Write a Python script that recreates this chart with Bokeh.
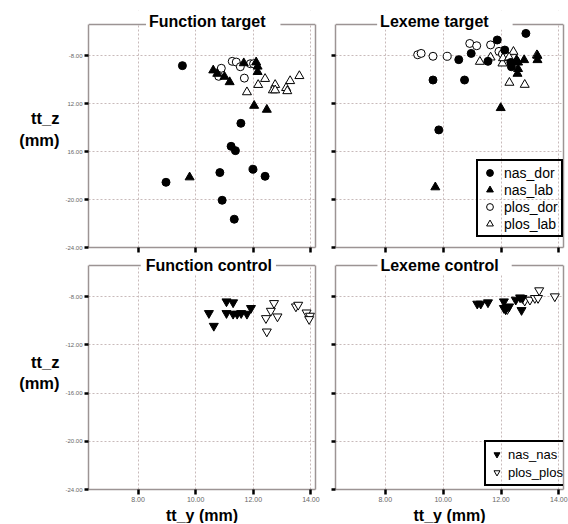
from bokeh.plotting import figure
from bokeh.layouts import column, row
from bokeh.models import (Range1d, FixedTicker, Label, Legend, LegendItem, LinearAxis,
                          ColumnDataSource, Span, BoxAnnotation, Title)
from bokeh.embed import file_html
from bokeh.resources import INLINE

# ---------------- data ----------------
panel_titles = ["Function target", "Lexeme target", "Function control", "Lexeme control"]
x_ticks = [8, 10, 12, 14]
x_tick_labels = ["8.00", "10.00", "12.00", "14.00"]
y_ticks = [-24, -20, -16, -12, -8]
y_tick_labels_top = ["-24.00", "-20.00", "16.00", "12.00", "-8.00"]
y_tick_labels_bottom = ["-24.00", "-20.00", "-16.00", "-12.00", "-8.00"]

# Function target
ft_nas_dor_y = [9.54, 11.57, 11.23, 11.38, 8.97, 10.84, 11.99, 12.41, 10.92, 11.34]
ft_nas_dor_z = [-8.83, -13.64, -15.56, -15.92, -18.56, -17.75, -17.47, -18.06, -20.06, -21.64]
ft_nas_lab_y = [10.61, 10.75, 11.0, 11.18, 11.67, 12.1, 12.15, 12.15, 12.03, 12.47, 9.79]
ft_nas_lab_z = [-9.22, -9.5, -9.75, -10.2, -8.62, -8.55, -8.9, -9.35, -12.17, -12.5, -18.14]
ft_plos_dor_y = [10.89, 10.8, 11.27, 11.41, 11.55, 11.69, 11.9, 12.01]
ft_plos_dor_z = [-9.05, -9.72, -8.47, -8.53, -8.92, -9.87, -8.67, -8.67]
ft_plos_lab_y = [11.78, 12.17, 12.41, 12.76, 12.68, 12.76, 13.14, 13.18, 13.28, 13.6]
ft_plos_lab_z = [-11.04, -10.43, -9.93, -10.43, -10.88, -10.88, -10.69, -10.95, -10.11, -9.69]

# Lexeme target
lt_nas_dor_y = [9.65, 10.74, 10.54, 10.97, 11.55, 11.87, 12.13, 12.36, 12.34, 12.86, 9.85]
lt_nas_dor_z = [-10.03, -10.03, -8.33, -7.81, -8.47, -6.69, -7.53, -8.92, -8.56, -6.14, -14.19]
lt_nas_lab_y = [12.54, 12.59, 12.8, 12.59, 12.57, 13.26, 13.26, 11.99, 9.73]
lt_nas_lab_z = [-8.36, -8.56, -8.36, -9.1, -9.5, -8.0, -8.36, -12.36, -18.97]
lt_plos_dor_y = [9.12, 9.24, 9.65, 10.14, 10.92, 11.16, 11.64, 11.93, 12.05, 12.16]
lt_plos_dor_z = [-7.92, -7.81, -8.05, -8.05, -6.98, -7.17, -7.1, -7.64, -7.86, -8.0]
lt_plos_lab_y = [11.27, 11.64, 12.05, 12.07, 12.43, 12.29, 12.82, 13.24, 12.28]
lt_plos_lab_z = [-8.5, -8.14, -8.64, -8.2, -7.67, -10.25, -10.42, -7.95, -8.14]

# Function control
fc_nas_nas_y = [10.46, 10.63, 11.07, 11.3, 11.07, 11.3, 11.44, 11.58, 11.78, 11.92]
fc_nas_nas_z = [-9.36, -10.42, -8.39, -8.47, -9.36, -9.42, -9.42, -9.36, -9.42, -8.94]
fc_plos_plos_y = [12.72, 12.61, 12.44, 12.84, 12.47, 13.48, 13.56, 13.85, 13.97, 13.94]
fc_plos_plos_z = [-8.53, -9.17, -9.78, -9.64, -10.89, -8.81, -8.67, -9.31, -9.58, -9.86]

# Lexeme control
lc_nas_nas_y = [11.18, 11.3, 11.55, 12.1, 12.1, 12.28, 12.16, 12.51, 12.66, 12.74, 12.71]
lc_nas_nas_z = [-8.58, -8.58, -8.47, -8.39, -8.94, -8.81, -9.05, -8.25, -8.06, -8.11, -9.11]
lc_plos_plos_y = [12.22, 12.82, 13.0, 13.17, 13.28, 13.32, 13.86]
lc_plos_plos_z = [-9.03, -8.33, -8.25, -8.11, -8.11, -7.47, -7.97]

# ---------------- style ----------------
FONT = "Liberation Sans"
FRAME = "#9c9494"
GRID = "#c8baba"
XR = (6.28, 14.16)
Y_LO, Y_HI = -24.0, -5.4          # data box of every panel
Y_TOP_EXTRA = {True: 1.17, False: 0.83}   # head-room above the box for the panel title


def make_fig(is_left, is_top, title, title_x, title_y, pad):
    fw = 227 if is_left else 228
    fh = 237 if is_top else 234
    p = figure(frame_width=fw, frame_height=fh,
               x_range=Range1d(*XR), y_range=Range1d(Y_LO, Y_HI + Y_TOP_EXTRA[is_top]),
               output_backend="svg", toolbar_location=None,
               min_border_left=88 if is_left else 15, min_border_right=5,
               min_border_top=10 if is_top else 0, min_border_bottom=8 if is_top else 34,
               background_fill_color="white", border_fill_color="white")
    p.outline_line_color = None
    xa = p.xaxis[0]
    ya = p.yaxis[0]
    xa.ticker = FixedTicker(ticks=x_ticks)
    ya.ticker = FixedTicker(ticks=y_ticks)
    ya.bounds = (Y_LO, Y_HI)
    for ax in (xa, ya):
        ax.axis_line_color = FRAME
        ax.axis_line_width = 1.5
        ax.major_tick_line_color = "black"
        ax.major_tick_line_width = 2.5
        ax.major_tick_in = 0
        ax.minor_tick_line_color = None
        ax.major_label_text_font = FONT
        ax.major_label_text_color = "#666666"
    xa.major_tick_out = 5
    ya.major_tick_out = 4
    if is_top:
        xa.major_label_text_font_size = "1px"
        xa.major_label_text_alpha = 0
        xa.major_label_standoff = 0
    else:
        xa.major_label_overrides = dict(zip(x_ticks, x_tick_labels))
        xa.major_label_text_font_size = "7px"
        xa.major_label_standoff = 2
        p.add_layout(Title(text="tt_y (mm)", align="center", offset=10 if is_left else 1,
                           standoff=0, text_font=FONT, text_font_size="16px",
                           text_font_style="bold", text_color="black"), "below")
    if is_left:
        labs = y_tick_labels_top if is_top else y_tick_labels_bottom
        ya.major_label_overrides = dict(zip(y_ticks, labs))
        ya.major_label_text_font_size = "6px"
        ya.major_label_standoff = 2
        ya.axis_label = "tt_z\n(mm)"
        ya.axis_label_orientation = "horizontal"
        ya.axis_label_text_align = "center"
        ya.axis_label_text_font = FONT
        ya.axis_label_text_font_size = "16.5px"
        ya.axis_label_text_font_style = "bold"
        ya.axis_label_text_color = "black"
        ya.axis_label_standoff = 3
    else:
        ya.major_label_text_font_size = "1px"
        ya.major_label_text_alpha = 0
        ya.major_label_standoff = 0
    rax = LinearAxis(ticker=FixedTicker(ticks=[]), axis_line_color=FRAME, axis_line_width=1.5,
                     major_tick_out=0, major_tick_in=0, minor_tick_out=0, minor_tick_in=0,
                     major_label_standoff=0, major_label_text_font_size="1px",
                     bounds=(Y_LO, Y_HI))
    p.add_layout(rax, "right")
    p.xgrid.ticker = FixedTicker(ticks=x_ticks)
    p.ygrid.ticker = FixedTicker(ticks=y_ticks)
    for g in (p.xgrid[0], p.ygrid[0]):
        g.grid_line_color = GRID
        g.grid_line_dash = "2 2"
        g.grid_line_width = 1
    # white head-room above the data box, then the top edge of the box
    p.add_layout(BoxAnnotation(bottom=Y_HI, fill_color="white", fill_alpha=1.0, line_color=None))
    p.add_layout(Span(location=Y_HI, dimension="width", line_color=FRAME, line_width=1.5))
    t = Label(x=title_x, y=title_y, x_units="data", y_units="data", text=title,
              text_align="center", text_baseline="middle", text_font=FONT,
              text_font_size="16px", text_font_style="bold", text_color="black",
              background_fill_color="white", padding=pad, level="overlay")
    p.add_layout(t)
    return p


def scat(p, xs, zs, marker, filled, size):
    src = ColumnDataSource(dict(x=xs, y=zs))
    return p.scatter("x", "y", source=src, marker=marker, size=size,
                     fill_color="black" if filled else "white",
                     line_color="black", line_width=1)


def legend(p, items, loc, gw, gh, standoff, fs):
    lg = Legend(items=[LegendItem(label=l, renderers=[r]) for l, r in items], location=loc,
                border_line_color="black", border_line_width=2.5, border_line_alpha=1.0,
                background_fill_alpha=0,
                label_text_font=FONT, label_text_font_size=fs, label_text_color="black",
                glyph_width=gw, glyph_height=gh, label_height=gh, label_standoff=standoff,
                spacing=0, padding=3, margin=0)
    p.add_layout(lg)


# Function target
p1 = make_fig(True, True, panel_titles[0], 10.61, -5.11, dict(left=3, right=15, top=0, bottom=0))
scat(p1, ft_plos_dor_y, ft_plos_dor_z, "circle", False, 8)
scat(p1, ft_plos_lab_y, ft_plos_lab_z, "triangle", False, 9)
scat(p1, ft_nas_dor_y, ft_nas_dor_z, "circle", True, 8)
scat(p1, ft_nas_lab_y, ft_nas_lab_z, "triangle", True, 9)

# Lexeme target
p2 = make_fig(False, True, panel_titles[1], 10.06, -5.11, dict(left=3, right=24, top=0, bottom=0))
r_pd = scat(p2, lt_plos_dor_y, lt_plos_dor_z, "circle", False, 8)
r_pl = scat(p2, lt_plos_lab_y, lt_plos_lab_z, "triangle", False, 9)
r_nd = scat(p2, lt_nas_dor_y, lt_nas_dor_z, "circle", True, 8)
r_nl = scat(p2, lt_nas_lab_y, lt_nas_lab_z, "triangle", True, 9)
legend(p2, [("nas_dor", r_nd), ("nas_lab", r_nl), ("plos_dor", r_pd), ("plos_lab", r_pl)],
       (141, 10), 17, 17, 6, "14px")

# Function control
p3 = make_fig(True, False, panel_titles[2], 10.44, -5.42, dict(left=5, right=4, top=0, bottom=0))
scat(p3, fc_plos_plos_y, fc_plos_plos_z, "inverted_triangle", False, 9)
scat(p3, fc_nas_nas_y, fc_nas_nas_z, "inverted_triangle", True, 9)

# Lexeme control
p4 = make_fig(False, False, panel_titles[3], 10.05, -5.42, dict(left=3, right=13, top=0, bottom=0))
r_pp = scat(p4, lc_plos_plos_y, lc_plos_plos_z, "inverted_triangle", False, 9)
r_nn = scat(p4, lc_nas_nas_y, lc_nas_nas_z, "inverted_triangle", True, 9)
legend(p4, [("nas_nas", r_nn), ("plos_plos", r_pp)], (149, 3), 15, 18, 4, "13px")

layout = column(row(p1, p2), row(p3, p4))
open("out.html", "w").write(file_html(layout, INLINE))
